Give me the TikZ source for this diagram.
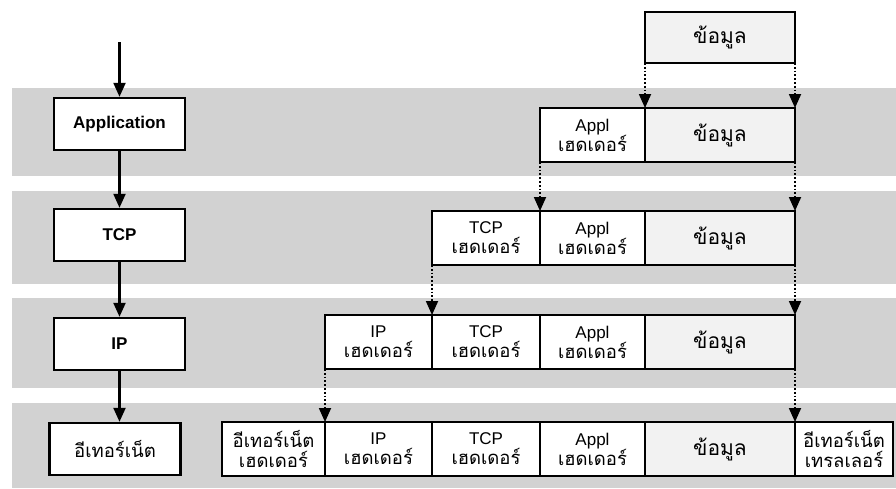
\documentclass[tikz,border=0pt]{standalone}
\usepackage{fontspec}
\setmainfont{Liberation Sans}
\newfontfamily\thaifont[Script=Thai]{Loma}
\usetikzlibrary{positioning,arrows.meta}

\tikzset{
  band/.style={fill=gray!35, draw=none},
  layerbox/.style={draw, line width=2.4pt, fill=white, minimum width=131pt, minimum height=52pt,
    inner sep=0pt, font=\fontsize{17}{20}\selectfont\bfseries},
  cellbox/.style={draw, line width=1.6pt, fill=white, anchor=north west, minimum width=#1,
    minimum height=54pt, inner sep=0pt, outer sep=0pt, align=center, font=\fontsize{17}{20}\selectfont},
  datacell/.style={cellbox=#1, fill=gray!10},
  flow/.style={-{Triangle[width=12pt,length=14pt]}, line width=2.2pt},
  wrap/.style={-{Triangle[width=12pt,length=14pt]}, line width=1.8pt, dotted},
}
\newcommand{\thtext}[1]{{\thaifont\fontsize{18.5}{20}\selectfont #1}}
\newcommand{\hd}[1]{#1\\\thtext{เฮดเดอร์}}
\newcommand{\dat}{{\thaifont\fontsize{21}{20}\selectfont ข้อมูล}}

\begin{document}
\begin{tikzpicture}[x=1pt,y=-1pt]
\useasboundingbox (0,0) rectangle (896,488);

% gray layer bands
\fill[band] (12,88) rectangle (896,176);
\fill[band] (12,191) rectangle (896,284);
\fill[band] (12,298) rectangle (896,388);
\fill[band] (12,403) rectangle (896,488);

% layers
\coordinate (top) at (119.5,42);
\node[layerbox] (app) at (119.5,124) {Application};
\node[layerbox] (tcp) at (119.5,235) {TCP};
\node[layerbox] (ip)  at (119.5,344) {IP};
\node[layerbox] (eth) at (115,449) {\thtext{\mdseries อีเทอร์เน็ต}};

\draw[flow] (top) -- (app);
\draw[flow] (app) -- (tcp);
\draw[flow] (tcp) -- (ip);
\draw[flow] (ip.south) -- (ip.south |- eth.north);

% data
\node[datacell=150pt, minimum height=51pt] (d0) at (645,12) {\dat};

% application
\node[cellbox=105pt] (a1) at (540,108) {\hd{Appl}};
\node[datacell=150pt] (d1) at (645,108) {\dat};

% tcp
\node[cellbox=108pt] (t2) at (432,211) {\hd{TCP}};
\node[cellbox=105pt] (a2) at (540,211) {\hd{Appl}};
\node[datacell=150pt] (d2) at (645,211) {\dat};

% ip
\node[cellbox=107pt] (i3) at (325,315) {\hd{IP}};
\node[cellbox=108pt] (t3) at (432,315) {\hd{TCP}};
\node[cellbox=105pt] (a3) at (540,315) {\hd{Appl}};
\node[datacell=150pt] (d3) at (645,315) {\dat};

% ethernet
\node[cellbox=103pt] (e4) at (222,422) {\thtext{อีเทอร์เน็ต}\\\thtext{เฮดเดอร์}};
\node[cellbox=107pt] (i4) at (325,422) {\hd{IP}};
\node[cellbox=108pt] (t4) at (432,422) {\hd{TCP}};
\node[cellbox=105pt] (a4) at (540,422) {\hd{Appl}};
\node[datacell=150pt] (d4) at (645,422) {\dat};
\node[cellbox=98pt] (r4) at (795,422) {\thtext{อีเทอร์เน็ต}\\\thtext{เทรลเลอร์}};

% encapsulation
\draw[wrap] (d0.south west) -- (d1.north west);
\draw[wrap] (d0.south east) -- (d1.north east);
\draw[wrap] (a1.south west) -- (a2.north west);
\draw[wrap] (d1.south east) -- (d2.north east);
\draw[wrap] (t2.south west) -- (t3.north west);
\draw[wrap] (d2.south east) -- (d3.north east);
\draw[wrap] (i3.south west) -- (i4.north west);
\draw[wrap] (d3.south east) -- (d4.north east);

\end{tikzpicture}
\end{document}
